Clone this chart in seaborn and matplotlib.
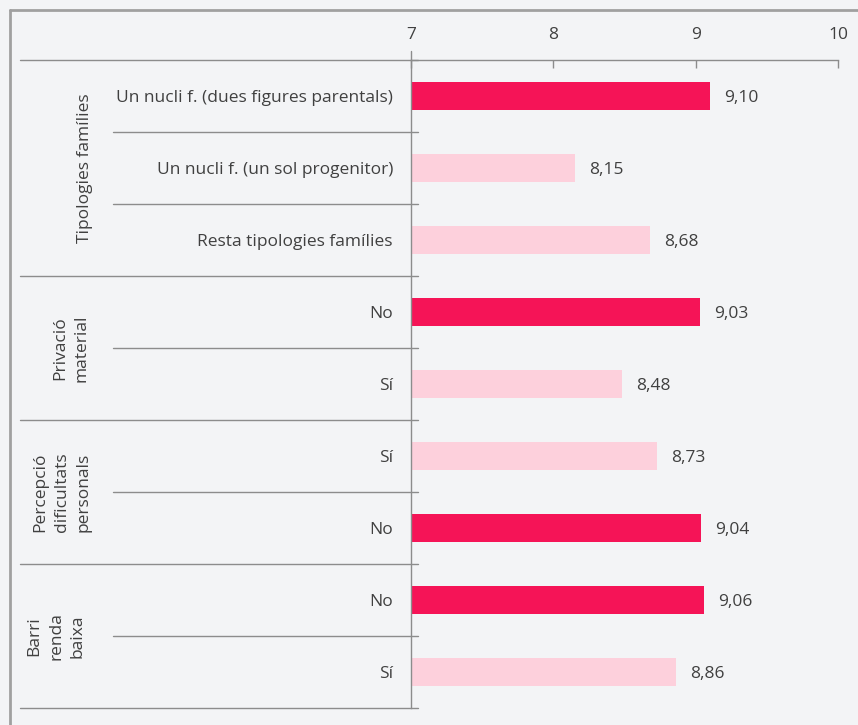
import matplotlib
matplotlib.use("Agg")
import matplotlib.pyplot as plt
from matplotlib.lines import Line2D
import seaborn as sns
import pandas as pd

# dades
etiquetes = ["Un nucli f. (dues figures parentals)", "Un nucli f. (un sol progenitor)",
             "Resta tipologies famílies", "No", "Sí", "Sí", "No", "No", "Sí"]
valors = [9.10, 8.15, 8.68, 9.03, 8.48, 8.73, 9.04, 9.06, 8.86]
tipus = ["ref", "alt", "alt", "ref", "alt", "alt", "ref", "ref", "alt"]
grups = ["Tipologies famílies", "Privació\nmaterial", "Percepció\ndificultats\npersonals",
         "Barri\nrenda\nbaixa"]
mida_grups = [3, 2, 2, 2]
ticks = [7, 8, 9, 10]

colors = {"ref": "#f51457", "alt": "#fdd0dc"}
fons = "#f3f4f6"
gris = "#8c8c8c"
text_col = "#404040"
fs = 12.5

sns.set_style("white")
plt.rcParams["font.family"] = ["Open Sans", "DejaVu Sans"]

df = pd.DataFrame({"fila": [f"r{i}" for i in range(len(valors))],
                   "valor": valors, "tipus": tipus})

W, H = 858, 725
fig = plt.figure(figsize=(W / 100, H / 100), dpi=100)
fig.patch.set_facecolor(fons)
ax = fig.add_axes([411 / W, (H - 708) / H, (838 - 411) / W, (708 - 60) / H])
ax.set_facecolor(fons)

sns.barplot(data=df, x="valor", y="fila", hue="tipus", palette=colors,
            dodge=False, orient="h", width=0.4, legend=False, saturation=1,
            linewidth=0, ax=ax)

ax.set_xlim(7, 10)
ax.set_ylim(len(valors) - 0.5, -0.5)
ax.set_xlabel("")
ax.set_ylabel("")
ax.xaxis.tick_top()
ax.set_xticks(ticks)
ax.set_xticklabels([str(t) for t in ticks])
ax.tick_params(axis="x", direction="in", length=6, width=1, color=gris,
               pad=12, labelsize=fs, labelcolor=text_col)
ax.set_yticks(range(len(etiquetes)))
ax.set_yticklabels(etiquetes)
ax.tick_params(axis="y", length=0, pad=13, labelsize=fs, labelcolor=text_col)

for s in ["right", "bottom"]:
    ax.spines[s].set_visible(False)
ax.spines["top"].set_color(gris)
ax.spines["left"].set_color(gris)
ax.spines["top"].set_linewidth(1)
ax.spines["left"].set_linewidth(1)

# etiquetes de valor
for i, v in enumerate(valors):
    ax.text(v + 0.1, i + 0.03, f"{v:.2f}".replace(".", ","), va="center", ha="left",
            fontsize=fs, color=text_col)

# separadors de files i grups
tr = ax.get_yaxis_transform()
x_grup = (20 - 411) / 427
x_fila = (113 - 411) / 427
x_fi = (418 - 411) / 427
inici = 0
vores = [-0.5]
for n in mida_grups:
    for k in range(1, n):
        ax.plot([x_fila, x_fi], [inici + k - 0.5] * 2, color=gris, lw=1,
                transform=tr, clip_on=False)
    inici += n
    vores.append(inici - 0.5)
for y in vores:
    ax.plot([x_grup, x_fi], [y, y], color=gris, lw=1, transform=tr, clip_on=False)
ax.plot([0, 0], [-0.5, -0.62], color=gris, lw=1, transform=tr, clip_on=False)

# noms dels grups
x_noms = [85, 71, 62, 56]
inici = 0
for g, n, xp in zip(grups, mida_grups, x_noms):
    ax.text((xp - 411) / 427, inici + (n - 1) / 2, g, rotation=90, ha="center",
            va="center", multialignment="center", fontsize=fs, color=text_col,
            transform=tr, linespacing=1.45)
    inici += n

# marc exterior
fig.add_artist(Line2D([10 / W, 10 / W], [0, 1 - 10 / H], color="#a0a0a0", lw=2))
fig.add_artist(Line2D([10 / W, 1], [1 - 10 / H, 1 - 10 / H], color="#a0a0a0", lw=2))

fig.savefig("out.png", dpi=100, facecolor=fons)
